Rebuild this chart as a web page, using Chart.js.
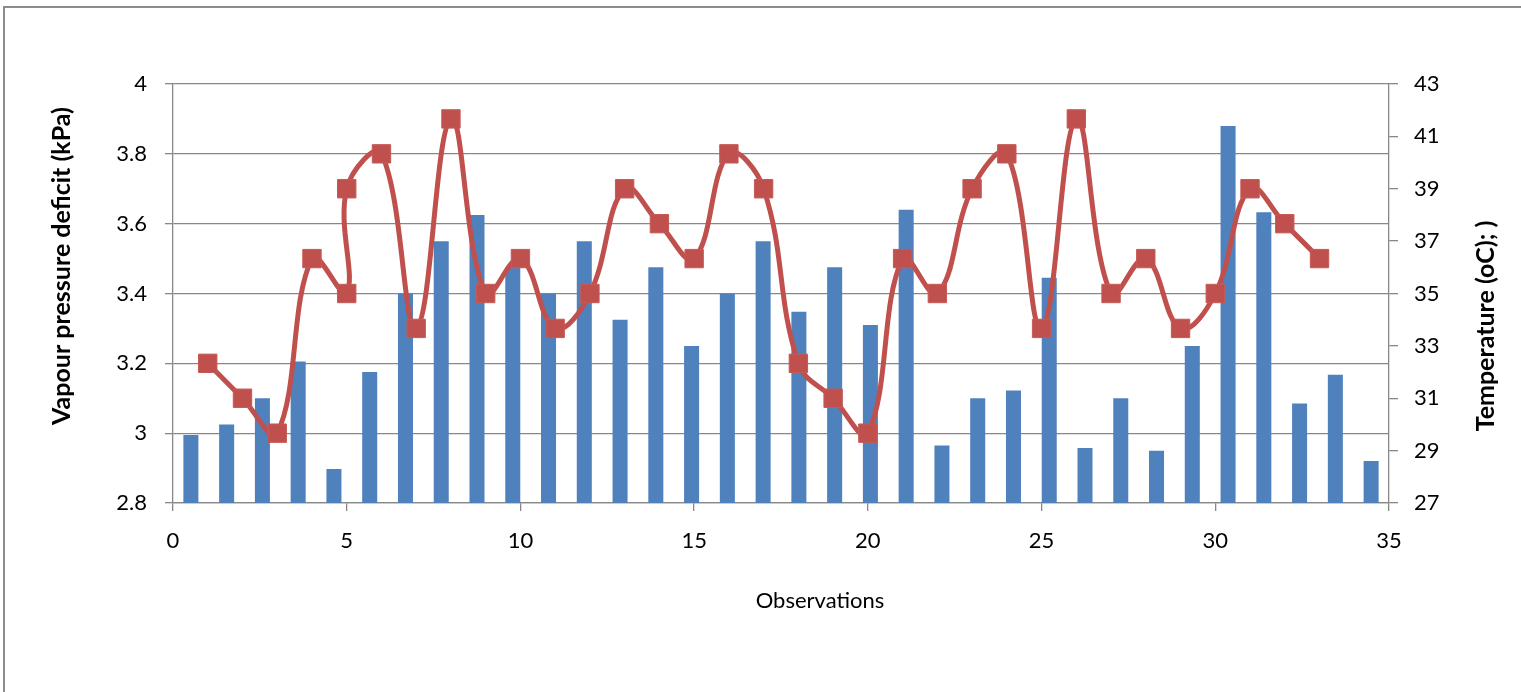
<!DOCTYPE html>
<html>
<head>
<meta charset="utf-8">
<script src="https://cdn.jsdelivr.net/npm/chart.js@4.4.1/dist/chart.umd.min.js"></script>
<style>
  html, body { margin: 0; padding: 0; background: #fff; }
  #wrap { width: 1521px; height: 692px; position: relative; }
</style>
</head>
<body>
<div id="wrap"><canvas id="vpdChart" width="1521" height="692"></canvas></div>
<script>
// bars: temperature per observation slot (right axis)
const barCategories = ['1','2','3','4','5','6','7','8','9','10','11','12','13','14','15','16','17',
  '18','19','20','21','22','23','24','25','26','27','28','29','30','31','32','33','34'];
const temperature = [29.6, 30, 31, 32.4, 28.3, 32, 35, 37, 38, 36, 35, 37, 34, 36, 33, 35, 37,
  34.3, 36, 33.8, 38.2, 29.2, 31, 31.3, 35.6, 29.1, 31, 29, 33, 41.4, 38.1, 30.8, 31.9, 28.6];

// line: vapour pressure deficit vs observation (left axis)
const obsX = [1, 2, 3, 4, 5, 5, 6, 7, 8, 9, 10, 11, 12, 13, 14, 15, 16, 17,
  18, 19, 20, 21, 22, 23, 24, 25, 26, 27, 28, 29, 30, 31, 32, 33];
const vpd = [3.2, 3.1, 3.0, 3.5, 3.4, 3.7, 3.8, 3.3, 3.9, 3.4, 3.5, 3.3, 3.4, 3.7, 3.6, 3.5, 3.8, 3.7,
  3.2, 3.1, 3.0, 3.5, 3.4, 3.7, 3.8, 3.3, 3.9, 3.4, 3.5, 3.3, 3.4, 3.7, 3.6, 3.5];

const leftTitle = 'Vapour pressure deficit (kPa)';
const rightTitle = 'Temperature (oC); )';
const bottomTitle = 'Observations';

const GRID = '#888888';
const FONT = 'Lato';

// outer frame + axis titles
const decor = {
  id: 'decor',
  beforeDraw(chart) {
    const ctx = chart.ctx;
    ctx.save();
    ctx.strokeStyle = '#8c8c8c';
    ctx.lineWidth = 2;
    ctx.strokeRect(4, 7, 1700, 900);
    ctx.restore();
  },
  afterDraw(chart) {
    const ctx = chart.ctx;
    ctx.save();
    ctx.fillStyle = '#000';
    ctx.textAlign = 'center';
    ctx.textBaseline = 'middle';
    ctx.font = 'bold 25px ' + FONT;
    ctx.save();
    ctx.translate(62, 266);
    ctx.rotate(-Math.PI / 2);
    ctx.fillText(leftTitle, 0, 0);
    ctx.restore();
    ctx.save();
    ctx.translate(1486, 326);
    ctx.rotate(-Math.PI / 2);
    ctx.fillText(rightTitle, 0, 0);
    ctx.restore();
    ctx.font = '22px ' + FONT;
    ctx.fillText(bottomTitle, 820, 601);
    ctx.restore();
  }
};

const ctx = document.getElementById('vpdChart').getContext('2d');
const chart = new Chart(ctx, {
  type: 'bar',
  data: {
    labels: barCategories,
    datasets: [
      {
        type: 'line',
        label: 'VPD',
        data: obsX.map((x, i) => ({ x: x, y: vpd[i] })),
        xAxisID: 'x',
        yAxisID: 'y',
        borderColor: '#C0504D',
        borderWidth: 5,
        tension: 0.4,
        pointStyle: 'rect',
        pointRadius: 13,
        pointBackgroundColor: '#C0504D',
        pointBorderColor: '#C55a57',
        pointBorderWidth: 1,
        order: 0
      },
      {
        type: 'bar',
        label: 'Temperature',
        data: temperature,
        xAxisID: 'xb',
        yAxisID: 'y2',
        backgroundColor: '#4F81BD',
        grouped: false,
        barPercentage: 0.42,
        categoryPercentage: 1,
        order: 1
      }
    ]
  },
  options: {
    responsive: false,
    animation: false,
    layout: { padding: { top: 84, left: 0, right: 0, bottom: 0 } },
    plugins: { legend: { display: false }, tooltip: { enabled: false } },
    scales: {
      x: {
        type: 'linear',
        position: 'bottom',
        min: 0, max: 35,
        offset: false,
        ticks: { stepSize: 5, color: '#000', padding: 17, font: { family: FONT, size: 22 } },
        grid: { offset: false, drawOnChartArea: false, drawTicks: true, tickLength: 8, color: GRID, lineWidth: 1.3 },
        border: { color: GRID, width: 1.3 },
        afterFit(s) { s.height = 189; }
      },
      xb: {
        type: 'category',
        display: false,
        offset: true
      },
      y: {
        position: 'left',
        min: 2.8, max: 4,
        ticks: { stepSize: 0.2, color: '#000', padding: 18, font: { family: FONT, size: 22 },
          callback: v => Math.round(v * 10) / 10 },
        grid: { color: GRID, lineWidth: 1.3, tickLength: 8 },
        border: { color: GRID, width: 1.3 },
        afterFit(s) { s.width = 173; }
      },
      y2: {
        position: 'right',
        min: 27, max: 43,
        ticks: { stepSize: 2, color: '#000', padding: 16, font: { family: FONT, size: 22 } },
        grid: { drawOnChartArea: false, color: GRID, lineWidth: 1.3, tickLength: 9 },
        border: { color: GRID, width: 1.3 },
        afterFit(s) { s.width = 132; }
      }
    }
  },
  plugins: [decor]
});
</script>
</body>
</html>
